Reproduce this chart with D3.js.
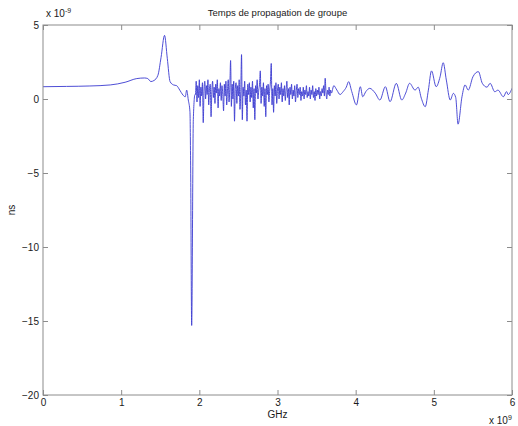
<!DOCTYPE html>
<html>
<head>
<meta charset="utf-8">
<title>Temps de propagation de groupe</title>
<script src="https://cdn.jsdelivr.net/npm/d3@7/dist/d3.min.js"></script>
<style>
    html, body {
        margin: 0;
        padding: 0;
        background: #fff;
    }
    svg text {
        font-family: "Liberation Sans", Arial, sans-serif;
        fill: #1a1a1a;
    }
</style>
</head>
<body>
<div id="chart"></div>
<script>
    // frequency (x 10^9) and group delay (x 10^-9 ns)
    const freqSmooth = [0, 0.3, 0.6, 0.86, 1.05, 1.2, 1.3, 1.34, 1.38, 1.42, 1.47, 1.51, 1.555, 1.59, 1.626,
        1.67, 1.71, 1.75, 1.79, 1.82, 1.838, 1.859, 1.88, 1.889, 1.902, 1.923, 1.944];
    const delaySmooth = [0.83, 0.85, 0.88, 0.95, 1.13, 1.38, 1.42, 1.38, 1.18, 1.25, 1.6, 2.8, 4.3, 2.75, 1.17,
        0.95, 0.9, 0.6, 0.27, 0.15, 0.6, -0.07, -0.86, -4.8, -15.3, -1.4, 0.3];

    // noisy band, 1.95 .. 3.69
    const freqNoise = [
        1.95, 1.96, 1.97, 1.98, 1.99, 2.00, 2.01, 2.02, 2.03, 2.04, 2.05, 2.06, 2.07, 2.08, 2.09,
        2.10, 2.11, 2.12, 2.13, 2.14, 2.15, 2.16, 2.17, 2.18, 2.19, 2.20, 2.21, 2.22, 2.23, 2.24,
        2.25, 2.26, 2.27, 2.28, 2.29, 2.30, 2.31, 2.32, 2.33, 2.34, 2.35, 2.36, 2.37, 2.38, 2.39,
        2.40, 2.41, 2.42, 2.43, 2.44, 2.45, 2.46, 2.47, 2.48, 2.49, 2.50, 2.51, 2.52, 2.53, 2.54,
        2.55, 2.56, 2.57, 2.58, 2.59, 2.60, 2.61, 2.62, 2.63, 2.64, 2.65, 2.66, 2.67, 2.68, 2.69,
        2.70, 2.71, 2.72, 2.73, 2.74, 2.75, 2.76, 2.77, 2.78, 2.79, 2.80, 2.81, 2.82, 2.83, 2.84,
        2.85, 2.86, 2.87, 2.88, 2.89, 2.90, 2.91, 2.92, 2.93, 2.94, 2.95, 2.96, 2.97, 2.98, 2.99,
        3.00, 3.01, 3.02, 3.03, 3.04, 3.05, 3.06, 3.07, 3.08, 3.09, 3.10, 3.11, 3.12, 3.13, 3.14,
        3.15, 3.16, 3.17, 3.18, 3.19, 3.20, 3.21, 3.22, 3.23, 3.24, 3.25, 3.26, 3.27, 3.28, 3.29,
        3.30, 3.31, 3.32, 3.33, 3.34, 3.35, 3.36, 3.37, 3.38, 3.39, 3.40, 3.41, 3.42, 3.43, 3.44,
        3.45, 3.46, 3.47, 3.48, 3.49, 3.50, 3.51, 3.52, 3.53, 3.54, 3.55, 3.56, 3.57, 3.58, 3.59,
        3.60, 3.61, 3.62, 3.63, 3.64, 3.65, 3.66, 3.67, 3.68, 3.69];
    const delayNoise = [
        0.3, 1.2, -0.2, 0.9, 0.1, 1.3, -0.5, 0.8, 0.2, 1.1, -1.6, 0.6, 1.2, 0.0, 0.9,
        0.3, 1.3, -0.4, 0.7, 1.0, -1.2, 0.5, 1.2, 0.1, 0.8, -0.3, 1.0, 0.4, 1.3, -0.6,
        0.7, 0.2, 1.1, -0.1, 0.9, 0.3, -0.8, 1.0, 0.2, 1.2, -0.4, 0.6, 1.3, -0.2, 0.8,
        2.6, -0.5, 1.0, 0.0, 1.2, -1.5, 0.7, 1.1, -0.3, 0.9, 0.2, 1.3, -0.7, 0.5, 3.0,
        -1.4, 0.8, 0.2, 1.2, -0.4, 0.6, -1.5, 1.0, 0.3, 1.1, -0.2, 0.8, 0.1, 1.2, -0.6,
        0.7, -1.4, 0.9, 0.4, 1.3, 0.0, 0.6, 1.0, 1.9, -0.3, 0.8, 0.2, 1.1, -0.5, 0.7,
        -1.2, 0.9, 0.3, 1.0, -0.2, 0.6, 1.2, 2.4, -0.4, 0.7, -0.9, 0.9, 0.2, 1.1, -0.3,
        0.6, 1.0, 0.0, 0.8, 0.3, 1.1, -0.2, 0.7, 0.2, 0.9, -0.1, 0.6, 1.2, 0.1, 0.7,
        -0.4, 0.8, 0.3, 1.0, 0.0, 0.6, 0.2, 0.9, -0.2, 0.5, 1.0, 0.1, 0.7, 0.3, 0.8,
        -0.1, 0.5, 0.2, 0.8, 0.0, 0.6, 0.3, 0.9, 0.1, 0.5, 0.2, 0.8, 0.0, 0.6, 0.3,
        0.9, 0.1, 0.5, -0.1, 0.7, 0.2, 0.6, 0.3, 0.8, 0.0, 0.5, 0.2, 0.7, 0.4, 0.9,
        0.2, 1.4, 0.5, 0.0, 0.6, 0.3, 0.8, 0.2, 0.6, 0.4];

    // smoother oscillations, 3.72 .. 6
    const freqTail = [3.72, 3.76, 3.80, 3.84, 3.88, 3.91, 3.95, 4.01, 4.06, 4.09, 4.13, 4.18, 4.25, 4.31,
        4.38, 4.44, 4.52, 4.59, 4.64, 4.69, 4.76, 4.80, 4.84, 4.89, 4.93, 4.97, 5.03, 5.08, 5.12, 5.16,
        5.21, 5.25, 5.28, 5.31, 5.36, 5.40, 5.44, 5.50, 5.57, 5.62, 5.68, 5.72, 5.78, 5.82, 5.89, 5.93,
        5.95, 6.00];
    const delayTail = [0.9, 0.6, 0.3, 0.5, 0.8, 1.17, 0.5, -0.4, 0.83, 0.15, 0.5, 0.72, 0.4, -0.07,
        0.83, -0.18, 1.06, -0.07, 0.4, 1.06, 0.6, 0.8, 0.05, -0.52, 0.6, 1.9, 0.83, 1.5, 2.45, 1.28,
        -0.07, 0.38, 0.1, -1.7, 0.15, 0.95, 0.6, 1.5, 1.85, 1.06, 0.8, 1.06, 0.49, 0.6, 0.15, 0.5,
        0.3, 0.72];

    const xTicks = [0, 1, 2, 3, 4, 5, 6];
    const yTicks = [-20, -15, -10, -5, 0, 5];

    const W = 518, H = 426;
    const mLeft = 43, mTop = 25, mRight = 512, mBottom = 395;
    const axisColor = "#8c8c8c";

    const points = [
        ...freqSmooth.map((f, i) => [f, delaySmooth[i]]),
        ...freqNoise.map((f, i) => [f, delayNoise[i]]),
        ...freqTail.map((f, i) => [f, delayTail[i]])
    ];

    const x = d3.scaleLinear([0, 6], [mLeft, mRight]);
    const y = d3.scaleLinear([-20, 5], [mBottom, mTop]);

    const svg = d3.select("#chart").append("svg")
        .attr("width", W)
        .attr("height", H)
        .attr("viewBox", [0, 0, W, H]);

    svg.append("rect")
        .attr("width", W).attr("height", H).attr("fill", "#fff");

    svg.append("clipPath").attr("id", "clip")
        .append("rect")
        .attr("x", mLeft).attr("y", mTop)
        .attr("width", mRight - mLeft).attr("height", mBottom - mTop);

    svg.append("path")
        .datum(points)
        .attr("clip-path", "url(#clip)")
        .attr("fill", "none")
        .attr("stroke", "#3a3ad0")
        .attr("stroke-width", 0.9)
        .attr("stroke-linejoin", "round")
        .attr("d", d3.line().x(d => x(d[0])).y(d => y(d[1])).curve(d3.curveMonotoneX));

    // Matlab-style box with inward ticks on all four sides
    const tick = 5;
    const styleAxis = g => {
        g.select(".domain").remove();
        g.selectAll(".tick line").attr("stroke", axisColor);
        g.selectAll(".tick text").attr("font-size", 10).attr("fill", "#1a1a1a")
            .attr("font-family", "'Liberation Sans', Arial, sans-serif");
    };

    svg.append("g")
        .attr("transform", `translate(0,${mBottom})`)
        .call(d3.axisBottom(x).tickValues(xTicks).tickFormat(d3.format("d"))
            .tickSizeInner(-tick).tickSizeOuter(0).tickPadding(4))
        .call(styleAxis);

    svg.append("g")
        .attr("transform", `translate(0,${mTop})`)
        .call(d3.axisTop(x).tickValues(xTicks).tickFormat("").tickSizeInner(-tick).tickSizeOuter(0))
        .call(styleAxis);

    svg.append("g")
        .attr("transform", `translate(${mLeft},0)`)
        .call(d3.axisLeft(y).tickValues(yTicks).tickFormat(d3.format("d"))
            .tickSizeInner(-tick).tickSizeOuter(0).tickPadding(4))
        .call(styleAxis);

    svg.append("g")
        .attr("transform", `translate(${mRight},0)`)
        .call(d3.axisRight(y).tickValues(yTicks).tickFormat("").tickSizeInner(-tick).tickSizeOuter(0))
        .call(styleAxis);

    svg.append("rect")
        .attr("x", mLeft).attr("y", mTop)
        .attr("width", mRight - mLeft).attr("height", mBottom - mTop)
        .attr("fill", "none")
        .attr("stroke", axisColor)
        .attr("stroke-width", 1);

    svg.append("text")
        .attr("x", (mLeft + mRight) / 2).attr("y", 16)
        .attr("text-anchor", "middle")
        .attr("font-size", 9.5)
        .text("Temps de propagation de groupe");

    svg.append("text")
        .attr("x", (mLeft + mRight) / 2).attr("y", 418)
        .attr("text-anchor", "middle")
        .attr("font-size", 10)
        .text("GHz");

    svg.append("text")
        .attr("transform", `translate(15,${(mTop + mBottom) / 2}) rotate(-90)`)
        .attr("text-anchor", "middle")
        .attr("font-size", 10)
        .text("ns");

    const exp = (tx, ty, power) => {
        const t = svg.append("text").attr("x", tx).attr("y", ty).attr("font-size", 10);
        t.append("tspan").text("x 10");
        t.append("tspan").attr("dy", -4).attr("font-size", 7).text(power);
    };
    exp(46, 17, "-9");
    exp(489, 424, "9");
</script>
</body>
</html>
